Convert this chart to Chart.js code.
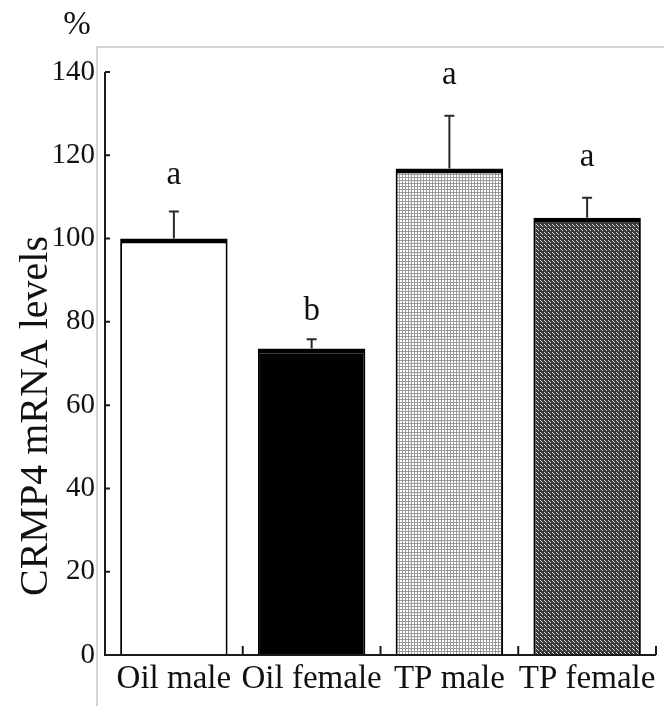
<!DOCTYPE html>
<html>
<head>
<meta charset="utf-8">
<script src="https://cdn.jsdelivr.net/npm/chart.js@4.4.1/dist/chart.umd.min.js"></script>
<style>
  html, body { margin: 0; padding: 0; background: #fff; }
  #wrap { width: 664px; height: 706px; }
</style>
</head>
<body>
<div id="wrap"><canvas id="crmp-chart" width="664" height="706"></canvas></div>
<script>
// Chart data
const categories = ["Oil male", "Oil female", "TP male", "TP female"];
const meanValues = [100, 73.6, 116.8, 105];
const errorTops = [106.5, 75.8, 129.5, 109.8];
const groupLetters = ["a", "b", "a", "a"];
const letterLevels = [113, 80.5, 137, 117.5];
const yMin = 0;
const yMax = 140;
const yStep = 20;

const serif = "'Liberation Serif', 'Times New Roman', serif";

// fill patterns for the TP bars
const makePattern = function(size, bg, fg, dots) {
	const c = document.createElement("canvas");
	c.width = size;
	c.height = size;
	const g = c.getContext("2d");
	g.fillStyle = bg;
	g.fillRect(0, 0, size, size);
	g.fillStyle = fg;
	dots.forEach(function(d) { g.fillRect(d[0], d[1], 1, 1); });
	return g.createPattern(c, "repeat");
};
const $ctx = document.getElementById("crmp-chart").getContext("2d");
const lightDots = makePattern(3, "#ffffff", "#9a9a9a", [[0, 0], [1, 0], [2, 0], [0, 1], [0, 2]]);
const darkHatch = makePattern(4, "#3a3a3a", "#d8d8d8", [[0, 0], [2, 2], [1, 1]]);

const barFills = ["#ffffff", "#000000", lightDots, darkHatch];

// axes, error bars, letters and frame
const decorPlugin = {
	id: "decor",
	afterDatasetsDraw: function(chart) {
		const ctx = chart.ctx;
		const a = chart.chartArea;
		const x = chart.scales.x;
		const y = chart.scales.y;
		ctx.save();

		// light grey frame
		ctx.strokeStyle = "#c6c6c6";
		ctx.lineWidth = 1.5;
		ctx.beginPath();
		ctx.moveTo(a.left - 8, chart.height);
		ctx.lineTo(a.left - 8, a.top - 25);
		ctx.lineTo(chart.width, a.top - 25);
		ctx.stroke();

		// axes
		ctx.strokeStyle = "#1a1a1a";
		ctx.lineWidth = 2;
		ctx.beginPath();
		ctx.moveTo(a.left, a.top);
		ctx.lineTo(a.left, a.bottom);
		ctx.lineTo(a.right, a.bottom);
		y.ticks.forEach(function(t) {
			const py = y.getPixelForValue(t.value);
			ctx.moveTo(a.left, py);
			ctx.lineTo(a.left + 5, py);
		});
		for (let i = 1; i <= categories.length; i++) {
			const px = i < categories.length ?
				(x.getPixelForValue(i - 1) + x.getPixelForValue(i)) / 2 : a.right;
			ctx.moveTo(px, a.bottom);
			ctx.lineTo(px, a.bottom - 9);
		}
		ctx.stroke();

		// error bars
		ctx.strokeStyle = "#2a2a2a";
		ctx.lineWidth = 2;
		ctx.beginPath();
		categories.forEach(function(c, i) {
			const px = x.getPixelForValue(i);
			const top = y.getPixelForValue(errorTops[i]);
			const base = y.getPixelForValue(meanValues[i]);
			ctx.moveTo(px, base);
			ctx.lineTo(px, top);
			ctx.moveTo(px - 5, top);
			ctx.lineTo(px + 5, top);
		});
		ctx.stroke();

		// significance letters
		ctx.fillStyle = "#111";
		ctx.font = "33px " + serif;
		ctx.textAlign = "center";
		ctx.textBaseline = "alphabetic";
		categories.forEach(function(c, i) {
			ctx.fillText(groupLetters[i], x.getPixelForValue(i), y.getPixelForValue(letterLevels[i]));
		});

		// unit and axis title
		ctx.font = "33px " + serif;
		ctx.textBaseline = "middle";
		ctx.fillText("%", a.left - 28, a.top - 47);
		ctx.translate(a.left - 69, a.bottom - 239);
		ctx.rotate(-Math.PI / 2);
		ctx.font = "40px " + serif;
		ctx.fillText("CRMP4 mRNA levels", 0, 0);
		ctx.restore();
	}
};

const chartAllData = {
	labels: categories,
	datasets: [
		{
			data: meanValues,
			backgroundColor: barFills,
			borderColor: "#000000",
			borderWidth: { top: 5, left: 2, right: 2, bottom: 0 },
			borderSkipped: false,
			categoryPercentage: 1.0,
			barPercentage: 0.78
		}
	]
};

const chartOptions = {
	responsive: false,
	animation: false,
	events: [],
	layout: { padding: { top: 72, right: 8, left: 0, bottom: 0 } },
	plugins: {
		legend: { display: false },
		tooltip: { enabled: false }
	},
	scales: {
		x: {
			grid: { display: false, drawTicks: false },
			border: { display: false },
			ticks: {
				color: "#111", padding: 5, autoSkip: false, maxRotation: 0, minRotation: 0,
				font: { family: serif, size: 33 }
			},
			afterFit: function(s) { s.height = 51; }
		},
		y: {
			min: yMin,
			max: yMax,
			grid: { display: false, drawTicks: false },
			border: { display: false },
			ticks: { stepSize: yStep, color: "#111", padding: 10, font: { family: serif, size: 29 } },
			afterFit: function(s) { s.width = 105; }
		}
	}
};

new Chart($ctx, { type: "bar", data: chartAllData, options: chartOptions, plugins: [decorPlugin] });
</script>
</body>
</html>
